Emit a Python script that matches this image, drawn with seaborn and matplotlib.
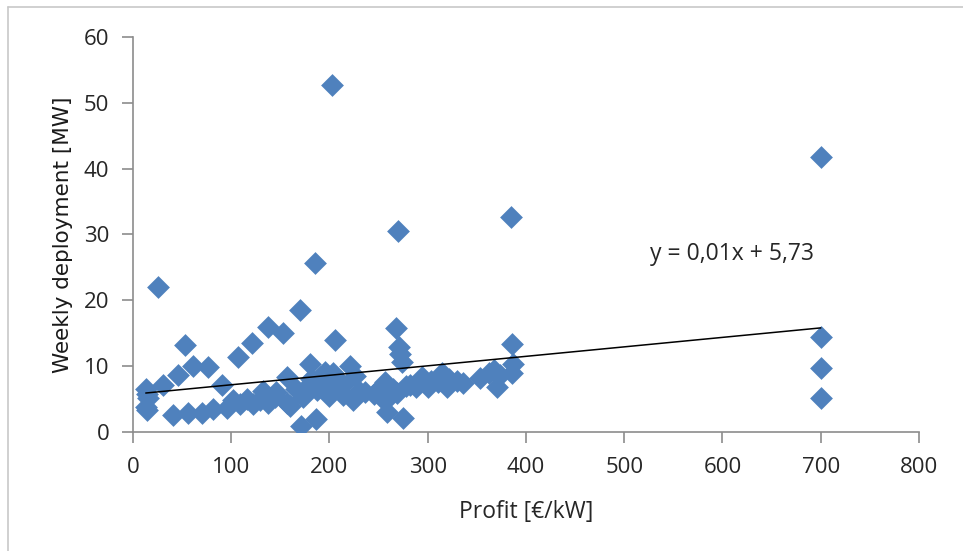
import matplotlib as mpl
import numpy as np
import pandas as pd
import seaborn as sns
from matplotlib import pyplot
from matplotlib.lines import Line2D

# %% -- data ---------------------------------------------------------------- #
profit = [13, 14, 15, 13, 14, 25, 31, 41, 46, 53, 56, 61, 70, 76, 81, 91, 96,
          102, 107, 109, 116, 121, 122, 129, 132, 137, 137, 145, 146, 153, 157,
          157, 160, 166, 170, 171, 173, 177, 180, 181, 185, 186, 187, 190, 195,
          200, 200, 203, 204, 206, 210, 214, 214, 221, 224, 226, 230, 236, 245,
          251, 255, 257, 259, 262, 265, 268, 270, 271, 272, 274, 269, 275, 278,
          282, 288, 294, 300, 303, 310, 315, 320, 322, 330, 336, 353, 362, 367,
          370, 374, 385, 386, 387, 386, 700, 700, 700, 700]
deployment = [6.6, 5.8, 5.2, 3.8, 3.4, 22.0, 7.2, 2.6, 8.7, 13.2, 2.9, 10.0,
              2.9, 9.9, 3.5, 7.2, 3.6, 4.9, 11.4, 4.2, 5.0, 13.5, 4.2, 4.8, 6.2,
              15.9, 4.4, 5.3, 6.0, 15.0, 8.3, 4.4, 3.9, 6.5, 18.5, 0.9, 5.3,
              6.8, 10.3, 8.0, 25.6, 1.9, 6.4, 8.3, 9.1, 5.4, 6.7, 52.7, 9.0,
              14.0, 7.8, 7.1, 5.6, 10.0, 4.9, 8.5, 6.2, 6.0, 5.8, 6.7, 4.9, 7.6,
              3.0, 5.5, 6.5, 15.8, 30.6, 12.9, 11.8, 10.6, 5.9, 2.2, 7.0, 7.2,
              6.8, 8.4, 6.8, 7.8, 7.6, 9.0, 6.8, 8.0, 7.8, 7.5, 8.2, 9.0, 9.4,
              6.8, 8.6, 32.6, 13.4, 10.3, 9.0, 41.8, 14.5, 9.7, 5.2]

# linear trendline as printed on the chart
fit_slope = 0.0144
fit_intercept = 5.73
fit_label = 'y = 0,01x + 5,73'

x_ticks = [0, 100, 200, 300, 400, 500, 600, 700, 800]
y_ticks = [0, 10, 20, 30, 40, 50, 60]

df = pd.DataFrame({'profit': profit, 'deployment': deployment})

# %% -- style ---------------------------------------------------------------- #
sns.set_theme(style="white")
mpl.rcParams['font.family'] = ['Open Sans', 'DejaVu Sans']
axis_grey = '#8c8c8c'
text_col = '#262626'

# %% -- figure --------------------------------------------------------------- #
f = pyplot.figure(figsize=(9.63, 5.51), dpi=100)
ax = f.add_axes([0.1381, 0.2160, 0.8162, 0.7169])

sns.scatterplot(data=df, x='profit', y='deployment', marker='D', s=135,
                color='#4f81bd', linewidth=0, ax=ax, zorder=3)

# trendline over the data range
x_fit = np.array([min(profit), max(profit)])
ax.plot(x_fit, fit_intercept + fit_slope * x_fit, color='black', linewidth=1.1, zorder=4)
ax.text(526, 27.0, fit_label, fontsize=16.5, color=text_col, va='center', ha='left')

# aesthetics
ax.set_xlim(0, 800)
ax.set_ylim(0, 60)
ax.set_xticks(x_ticks)
ax.set_yticks(y_ticks)
ax.tick_params(axis='both', direction='out', length=8, width=1.2, color=axis_grey,
               labelsize=16, labelcolor=text_col)
ax.tick_params(axis='x', bottom=True, pad=10)
ax.tick_params(axis='y', left=True, pad=9)
ax.set_xlabel('Profit [€/kW]', fontsize=16.5, color=text_col, labelpad=16)
ax.set_ylabel('Weekly deployment [MW]', fontsize=15.5, color='#1a1a1a',
              family='DejaVu Sans', labelpad=8)

ax.spines['top'].set_visible(False)
ax.spines['right'].set_visible(False)
for s in ['left', 'bottom']:
    ax.spines[s].set_color(axis_grey)
    ax.spines[s].set_linewidth(1.2)

# frame of the original chart box (top and left edges)
f.add_artist(Line2D([8 / 963, 1], [1 - 7 / 551, 1 - 7 / 551], transform=f.transFigure,
                    color='#c8c8c8', linewidth=1.2))
f.add_artist(Line2D([8 / 963, 8 / 963], [0, 1 - 7 / 551], transform=f.transFigure,
                    color='#c8c8c8', linewidth=1.2))

pyplot.savefig('out.png', dpi=100)
